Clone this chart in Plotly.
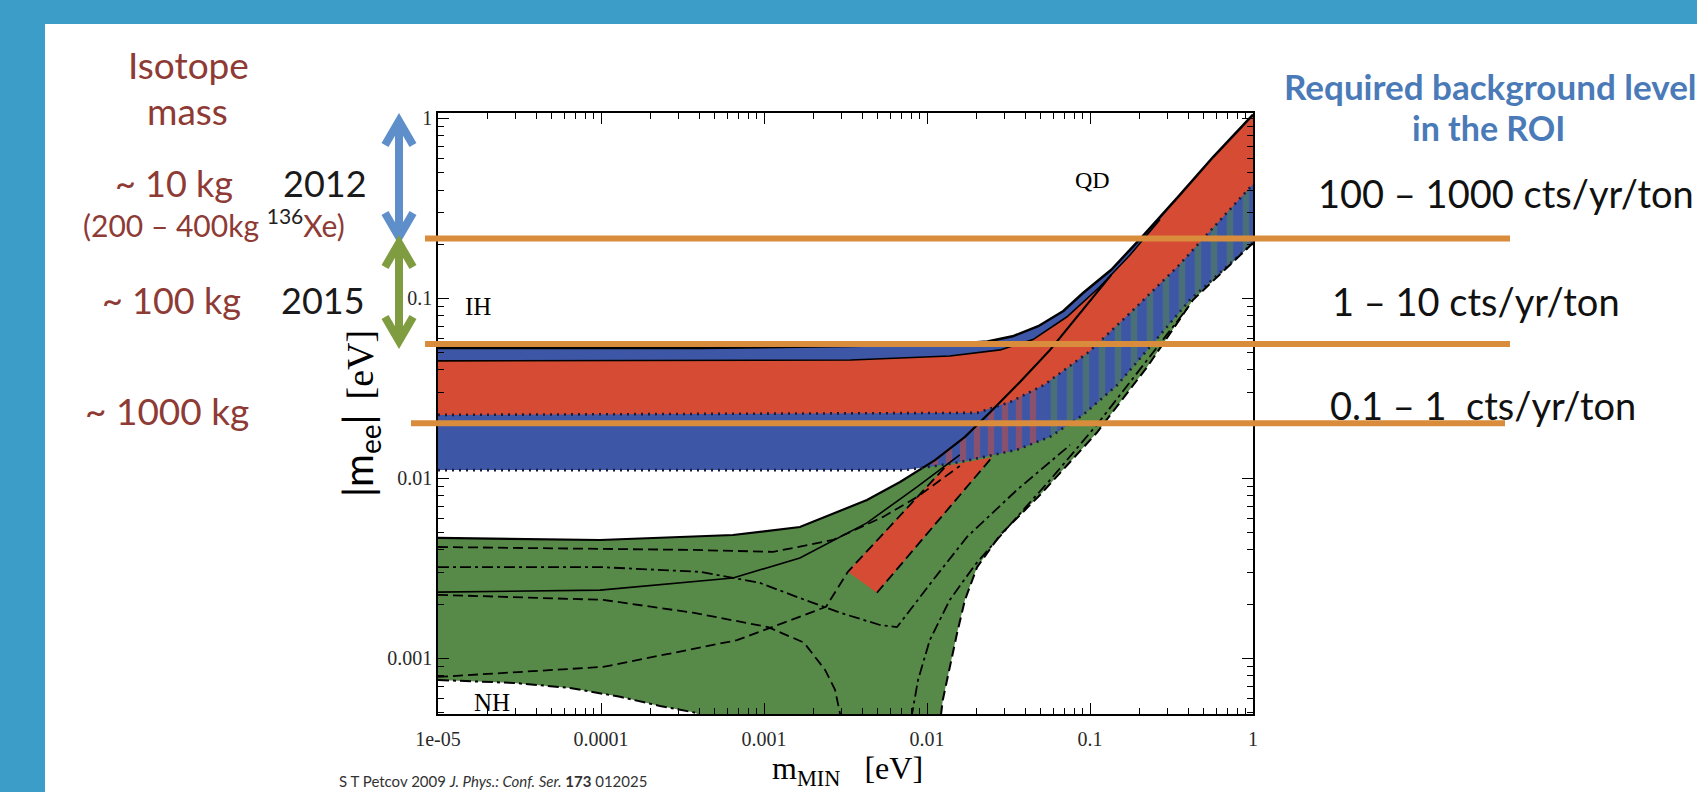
import plotly.graph_objects as go

# ---------------- data (eV) ----------------
# IH band, upper edge (solid black)
ih_top_mmin = [1e-5, 4.0e-4, 3.4e-3, 0.0138, 0.0235, 0.0335, 0.0481, 0.0686, 0.0906, 0.135, 0.208, 0.347, 0.569, 1.0]
ih_top_mee = [0.053, 0.053, 0.0543, 0.0558, 0.0575, 0.0615, 0.0700, 0.0850, 0.107, 0.144, 0.219, 0.366, 0.610, 1.05]
# IH band, lower edge (dotted)
ih_bot_mmin = [1e-5, 7.3e-3, 0.0112, 0.0159, 0.0356, 0.0569, 0.0906, 0.147, 0.269, 0.410, 1.0]
ih_bot_mee = [0.0111, 0.0111, 0.0117, 0.0123, 0.0144, 0.0170, 0.0225, 0.033, 0.0625, 0.098, 0.203]
# inner solid line of the IH band (upper edge of the red area)
ih_in_mmin = [1e-5, 3.4e-3, 0.0138, 0.0281, 0.0447, 0.0723, 0.115, 0.176, 0.269]
ih_in_mee = [0.0449, 0.0454, 0.0478, 0.0517, 0.0590, 0.0790, 0.116, 0.174, 0.274]
# lower edge of the red area (dotted)
red_lo_mmin = [1e-5, 0.0203, 0.0323, 0.0522, 0.0986, 0.184, 0.347, 0.569, 1.0]
red_lo_mee = [0.0225, 0.0231, 0.0265, 0.033, 0.0504, 0.0861, 0.151, 0.246, 0.431]
# NH region, upper edge (solid black)
nh_top_mmin = [1e-5, 9.86e-5, 6.45e-4, 1.66e-3, 4.28e-3, 6.83e-3, 0.0112, 0.0171, 0.0244, 0.0372, 0.0569, 0.0906, 0.135]
nh_top_mee = [4.66e-3, 4.54e-3, 4.84e-3, 5.36e-3, 7.57e-3, 9.53e-3, 0.0126, 0.0170, 0.0233, 0.0343, 0.0517, 0.0861, 0.135]
# NH region, lower-right edge (dashed), from the top right downwards
nh_lr_mmin = [1.0, 0.428, 0.224, 0.110, 0.0493, 0.0281, 0.0203, 0.0171, 0.0153, 0.0138, 0.0125, 0.0122, 0.0121]
nh_lr_mee = [0.203, 0.0979, 0.0415, 0.0179, 8.07e-3, 4.84e-3, 3.21e-3, 2.11e-3, 1.38e-3, 8.95e-4, 5.86e-4, 4.9e-4, 3.0e-4]
# NH region, lower-left edge (dash-dot)
nh_ll_mmin = [1e-5, 2.92e-5, 6.46e-5, 1.31e-4, 2.30e-4, 3.83e-4, 5.0e-4]
nh_ll_mee = [7.57e-4, 7.29e-4, 6.84e-4, 6.10e-4, 5.43e-4, 4.97e-4, 3.5e-4]
# hatched overlap areas
h1_mmin = [9.86e-3, 0.0112, 0.0171, 0.0251, 0.0323, 0.0522, 0.0522, 0.0356, 0.0159]
h1_mee = [0.0117, 0.0126, 0.0170, 0.0240, 0.0265, 0.033, 0.0165, 0.0144, 0.0123]
h2_mmin = [0.0522, 0.0986, 0.184, 0.347, 0.569, 1.0, 1.0, 0.410, 0.269, 0.147, 0.0906, 0.0569, 0.0522]
h2_mee = [0.033, 0.0504, 0.0861, 0.151, 0.246, 0.431, 0.203, 0.098, 0.0625, 0.033, 0.0225, 0.0170, 0.0165]
# red diagonal strip inside NH
rs_mmin = [3.27e-3, 0.0131, 0.0251, 4.93e-3]
rs_mee = [3.02e-3, 0.0117, 0.0131, 2.31e-3]
# interior NH curves
la_mmin = [1e-5, 3.52e-4, 1.14e-3, 2.65e-3, 5.37e-3, 8.69e-3, 0.0159]
la_mee = [4.15e-3, 4.0e-3, 3.9e-3, 4.54e-3, 6.10e-3, 7.87e-3, 0.0117]
lb_mmin = [1e-5, 9.86e-5, 4.05e-4, 9.44e-4, 1.66e-3, 2.93e-3, 5.15e-3, 6.55e-3, 0.0109, 0.0176, 0.0356, 0.0754]
lb_mee = [3.21e-3, 3.21e-3, 3.02e-3, 2.62e-3, 2.16e-3, 1.79e-3, 1.53e-3, 1.49e-3, 2.72e-3, 4.72e-3, 8.61e-3, 0.0153]
lc_mmin = [1e-5, 9.86e-5, 6.45e-4, 1.66e-3, 4.28e-3, 8.69e-3, 0.0159]
lc_mee = [2.33e-3, 2.39e-3, 2.79e-3, 3.61e-3, 5.65e-3, 8.95e-3, 0.0135]
ld_mmin = [1e-5, 1.03e-4, 3.67e-4, 1.06e-3, 1.76e-3, 2.37e-3, 2.73e-3, 2.93e-3, 3.0e-3]
ld_mee = [2.25e-3, 2.11e-3, 1.79e-3, 1.49e-3, 1.22e-3, 8.61e-4, 6.67e-4, 4.9e-4, 3.5e-4]
le_mmin = [1e-5, 1.03e-4, 6.83e-4, 2.40e-3, 3.27e-3, 0.0109, 0.0131]
le_mee = [7.87e-4, 8.95e-4, 1.26e-3, 1.93e-3, 3.02e-3, 9.79e-3, 0.0117]
lf_mmin = [4.93e-3, 0.0191, 0.0251]
lf_mee = [2.31e-3, 9.79e-3, 0.0131]
lg_mmin = [8.0e-3, 8.10e-3, 8.81e-3, 0.0104, 0.0138, 0.0197, 0.0323, 0.0569, 0.110, 0.224, 0.410]
lg_mee = [3.5e-4, 4.9e-4, 7.57e-4, 1.26e-3, 2.11e-3, 3.30e-3, 5.51e-3, 9.79e-3, 0.0198, 0.0454, 0.0918]

# required sensitivity levels (eV)
levels = [0.215, 0.0557, 0.0202]
level_labels = ["100 \u2013 1000 cts/yr/ton", "1 \u2013 10 cts/yr/ton", "0.1 \u2013 1  cts/yr/ton"]

x_tickvals = [1e-5, 1e-4, 1e-3, 1e-2, 1e-1, 1]
x_ticktext = ["1e-05", "0.0001", "0.001", "0.01", "0.1", "1"]
y_tickvals = [1e-3, 1e-2, 1e-1, 1]
y_ticktext = ["0.001", "0.01", "0.1", "1"]

# ---------------- styles ----------------
BLUE = "#3D56A6"
RED = "#D64B33"
GREEN = "#578A48"
ORANGE = "#D98C3C"
SLIDE = "#3B9DC8"
BROWN = "#8E3A35"
SERIF = "Liberation Serif"
SANS = "Lato"

W, H = 1697, 792
L, R, T, B = 438, 444, 113, 78
PW, PH = W - L - R, H - T - B


def px(x):
    return (x - L) / PW


def py(y):
    return (H - B - y) / PH


fig = go.Figure()


def poly(xs, ys, color, pattern=None):
    kw = dict(x=xs, y=ys, mode="lines", fill="toself", fillcolor=color,
              line=dict(width=0, color=color), hoverinfo="skip", showlegend=False)
    if pattern:
        kw["fillpattern"] = pattern
    fig.add_trace(go.Scatter(**kw))


def curve(xs, ys, dash="solid", width=2, color="black"):
    fig.add_trace(go.Scatter(x=xs, y=ys, mode="lines", line=dict(color=color, width=width, dash=dash),
                             hoverinfo="skip", showlegend=False))


# NH region
poly(nh_top_mmin + ih_top_mmin[10:] + nh_lr_mmin + nh_ll_mmin[::-1],
     nh_top_mee + ih_top_mee[10:] + nh_lr_mee + nh_ll_mee[::-1], GREEN)
# IH region
poly(ih_top_mmin + ih_bot_mmin[::-1], ih_top_mee + ih_bot_mee[::-1], BLUE)
# hatched overlaps
poly(h1_mmin, h1_mee, BLUE, dict(shape="|", bgcolor=BLUE, fgcolor=RED, size=14, solidity=0.45))
poly(h2_mmin, h2_mee, BLUE, dict(shape="|", bgcolor=BLUE, fgcolor=GREEN, size=16, solidity=0.4))
# red areas
poly(ih_in_mmin + ih_top_mmin[11:] + red_lo_mmin[::-1],
     ih_in_mee + ih_top_mee[11:] + red_lo_mee[::-1], RED)
poly(rs_mmin, rs_mee, RED)

DASH = "10px,5px"
DASHDOT = "11px,4px,3px,4px"
# boundary curves
curve(ih_top_mmin, ih_top_mee, width=2.5)
curve(ih_in_mmin, ih_in_mee, width=1.6)
curve(nh_top_mmin, nh_top_mee, width=2.2)
curve(red_lo_mmin, red_lo_mee, dash="2px,5px", width=2.6, color="#1b1b3a")
curve(ih_bot_mmin, ih_bot_mee, dash="2px,5px", width=2.6, color="#1b1b3a")
curve(nh_lr_mmin, nh_lr_mee, dash=DASH, width=2)
curve(nh_ll_mmin, nh_ll_mee, dash=DASHDOT, width=2)
# interior NH curves
curve(la_mmin, la_mee, dash=DASH, width=1.8)
curve(lb_mmin, lb_mee, dash=DASHDOT, width=1.8)
curve(lc_mmin, lc_mee, width=1.6)
curve(ld_mmin, ld_mee, dash=DASH, width=1.8)
curve(le_mmin, le_mee, dash=DASH, width=1.8)
curve(lf_mmin, lf_mee, dash=DASH, width=1.8)
curve(lg_mmin, lg_mee, dash=DASHDOT, width=1.8)

# ---------------- axes ----------------
minor_x = [k * 10 ** e for e in range(-5, 0) for k in range(2, 10)]
minor_y = [k * 10 ** e for e in range(-4, 0) for k in range(2, 10)]
axis_common = dict(type="log", showgrid=False, zeroline=False, showline=True, linecolor="black",
                   linewidth=1.6, ticks="inside", ticklen=11, tickwidth=1.3, tickcolor="black",
                   mirror="allticks", tickfont=dict(family=SERIF, size=20, color="#2a2a2a"))
fig.update_xaxes(range=[-5, 0], tickmode="array", tickvals=x_tickvals, ticktext=x_ticktext,
                 ticklabelstandoff=6,
                 minor=dict(ticks="inside", ticklen=6, tickwidth=1.2, tickcolor="black",
                            tickmode="array", tickvals=minor_x, showgrid=False),
                 **axis_common)
fig.update_yaxes(range=[-3.31, 0.03], tickmode="array", tickvals=y_tickvals, ticktext=y_ticktext,
                 minor=dict(ticks="inside", ticklen=6, tickwidth=1.2, tickcolor="black",
                            tickmode="array", tickvals=minor_y, showgrid=False),
                 **axis_common)

shapes = []
# slide frame (blue border strips)
shapes.append(dict(type="rect", xref="paper", yref="paper", x0=px(-5), x1=px(45), y0=py(800), y1=py(-5),
                   fillcolor=SLIDE, line=dict(width=0), layer="above"))
shapes.append(dict(type="rect", xref="paper", yref="paper", x0=px(-5), x1=px(1705), y0=py(24), y1=py(-5),
                   fillcolor=SLIDE, line=dict(width=0), layer="above"))
# orange sensitivity lines
line_x = [(425, 1510), (425, 1510), (411, 1505)]
for lv, (xa, xb) in zip(levels, line_x):
    shapes.append(dict(type="line", xref="paper", yref="y", x0=px(xa), x1=px(xb), y0=lv, y1=lv,
                       line=dict(color=ORANGE, width=6), layer="above"))


def darrow(xc, ytop, ybot, color):
    hw, hh = 14, 24
    path = (f"M {px(xc)} {py(ytop + 3)} L {px(xc)} {py(ybot - 3)} "
            f"M {px(xc - hw)} {py(ytop + hh)} L {px(xc)} {py(ytop)} L {px(xc + hw)} {py(ytop + hh)} "
            f"M {px(xc - hw)} {py(ybot - hh)} L {px(xc)} {py(ybot)} L {px(xc + hw)} {py(ybot - hh)}")
    shapes.append(dict(type="path", xref="paper", yref="paper", path=path,
                       line=dict(color=color, width=8), layer="above"))


darrow(399, 121, 237, "#5E8FCB")
darrow(399, 243, 341, "#7F9C40")
fig.update_layout(shapes=shapes)

ann = []


def text(s, x, y, size, color="black", family=SANS, xanchor="center", angle=0, yanchor="middle"):
    ann.append(dict(text=s, x=px(x), y=py(y), xref="paper", yref="paper", showarrow=False,
                    xanchor=xanchor, yanchor=yanchor, textangle=angle,
                    font=dict(family=family, size=size, color=color)))


# left column
text("Isotope", 188, 64, 37, BROWN)
text("mass", 187, 110, 37, BROWN)
text("~ 10 kg", 174, 183, 36, BROWN)
text("2012", 325, 183, 36, "#1a1a1a")
text("(200 \u2013 400kg <span style='color:#222'><sup>136</sup></span>Xe)", 214, 223, 30, BROWN)
text("~ 100 kg", 171, 300, 36, BROWN)
text("2015", 323, 300, 36, "#1a1a1a")
text("~ 1000 kg", 167, 410, 37, BROWN)
# right column
text("<b>Required background level</b>", 1282, 86, 35, "#4A7AB8", xanchor="left")
text("<b>in the ROI</b>", 1488, 128, 34, "#4A7AB8")
for lab, (xl, yc) in zip(level_labels, [(1316, 193), (1330, 301), (1328, 405)]):
    text(lab, xl, yc, 38, "#111", xanchor="left")
# region labels inside the plot
text("QD", 1092, 180, 24, family=SERIF)
text("IH", 478, 306, 25, family=SERIF)
text("NH", 492, 702, 25, family=SERIF)
# axis titles
text("<span style='font-family:Lato;font-size:40px'>|m<sub>ee</sub>|</span>  <span style='font-size:38px'>[eV]</span>",
     360, 414, 30, family=SERIF, angle=-90)
text("m<sub>MIN</sub>   [eV]", 847, 770, 32, family=SERIF)
text("S T Petcov 2009 <i>J. Phys.: Conf. Ser.</i> <b>173</b> 012025", 337, 781, 15, "#333",
     xanchor="left")

fig.update_layout(width=W, height=H, margin=dict(l=L, r=R, t=T, b=B), paper_bgcolor="white",
                  plot_bgcolor="white", showlegend=False, annotations=ann)

fig.write_html("out.html")
